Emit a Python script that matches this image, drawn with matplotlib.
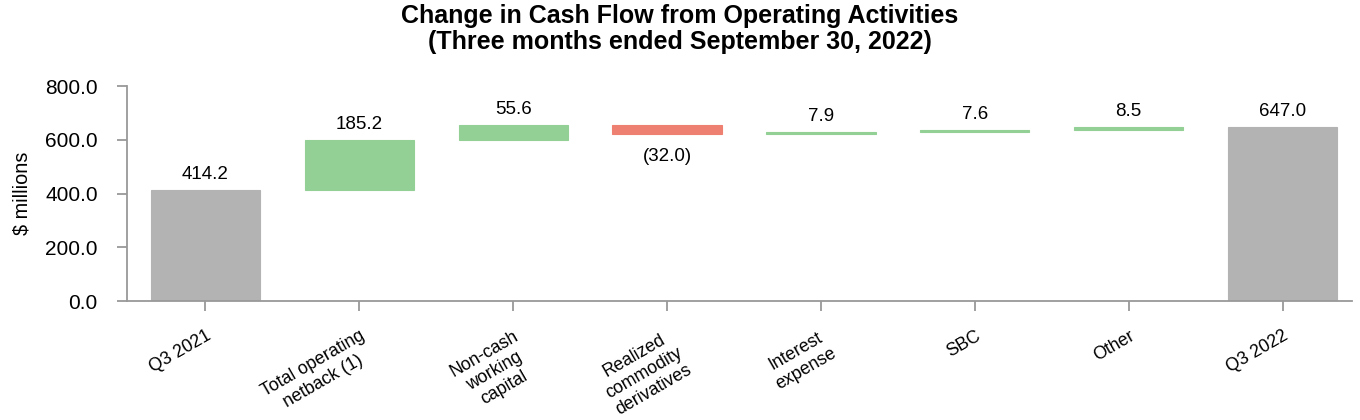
import matplotlib
import matplotlib.pyplot as plt
import numpy as np

matplotlib.use("Agg")

plt.rcParams["font.family"] = ["Liberation Sans", "DejaVu Sans"]

categories = [
    "Q3 2021",
    "Total operating\nnetback (1)",
    "Non-cash\nworking\ncapital",
    "Realized\ncommodity\nderivatives",
    "Interest\nexpense",
    "SBC",
    "Other",
    "Q3 2022",
]
changes = [414.2, 185.2, 55.6, -32.0, 7.9, 7.6, 8.5, 647.0]
is_total = [True, False, False, False, False, False, False, True]

GREY = "#b3b3b3"
GREEN = "#93d096"
RED = "#ee8072"
AXIS = "#999999"

# waterfall bases
bottoms = []
heights = []
running = 0.0
for v, tot in zip(changes, is_total):
    if tot:
        bottoms.append(0.0)
        heights.append(v)
        running = v
    else:
        bottoms.append(running if v >= 0 else running + v)
        heights.append(abs(v))
        running += v

colors = [GREY if t else (GREEN if v >= 0 else RED) for v, t in zip(changes, is_total)]

fig = plt.figure(figsize=(13.6, 4.2), dpi=100)
ax = fig.add_axes([0.0934, 0.283, 0.9006, 0.512])

x = np.arange(len(categories))
ax.bar(x, heights, bottom=bottoms, width=0.71, color=colors, edgecolor=colors, linewidth=0.8, zorder=2)

for xi, v, b, h in zip(x, changes, bottoms, heights):
    if v >= 0:
        ax.text(xi, b + h + 26, f"{v:.1f}", ha="center", va="bottom", fontsize=13.5)
    else:
        ax.text(xi, b - 55, f"({abs(v):.1f})", ha="center", va="top", fontsize=13.5)

ax.set_xlim(-0.51, 7.45)
ax.set_ylim(0, 800)
ax.set_yticks([0, 200, 400, 600, 800])
ax.set_yticklabels([f"{t:.1f}" for t in [0, 200, 400, 600, 800]], fontsize=15)
ax.set_ylabel("$ millions", fontsize=14.3, labelpad=10)

ax.set_xticks(x)
ax.set_xticklabels(categories, fontsize=12.8, rotation=30, ha="right",
                   rotation_mode="anchor", multialignment="center")

for s in ["top", "right"]:
    ax.spines[s].set_visible(False)
for s in ["left", "bottom"]:
    ax.spines[s].set_color(AXIS)
    ax.spines[s].set_linewidth(1.3)
ax.tick_params(axis="both", colors=AXIS, length=7, width=1.3, labelcolor="black")
ax.tick_params(axis="y", pad=14)
ax.tick_params(axis="x", pad=12)

fig.suptitle("Change in Cash Flow from Operating Activities\n(Three months ended September 30, 2022)",
             fontsize=18, fontweight="bold", y=0.99, linespacing=1.12)

fig.savefig("out.png", dpi=100)
